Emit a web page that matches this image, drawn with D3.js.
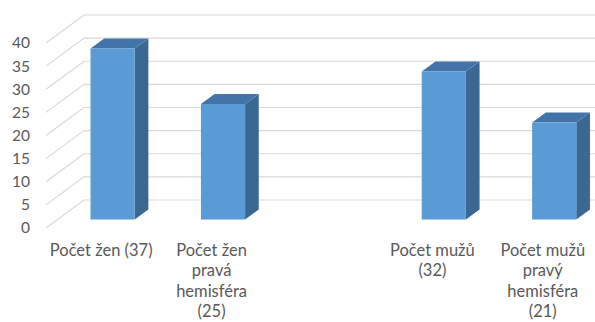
<!DOCTYPE html>
<html>
<head>
<meta charset="utf-8">
<script src="https://cdn.jsdelivr.net/npm/d3@7/dist/d3.min.js"></script>
<style>
  html, body { margin: 0; padding: 0; background: #ffffff; }
  svg { display: block; }
</style>
</head>
<body>
<svg id="chart" width="595" height="322"></svg>
<script>
// category labels, with line breaks as wrapped in the original chart
const categories = ["Počet žen (37)", "Počet žen\npravá\nhemisféra\n(25)", "", "Počet mužů\n(32)", "Počet mužů\npravý\nhemisféra\n(21)"];
const values = [37, 25, null, 32, 21];
const yTicks = [0, 5, 10, 15, 20, 25, 30, 35, 40];

const W = 595, H = 322;
const svg = d3.select("#chart");

// oblique 3D projection parameters
const DX = 38, DY = -28;          // full depth offset
const dFront = 0.3, dBack = 0.66; // bar depth placement

const y = d3.scaleLinear().domain([0, 40]).range([228, 43]);
const x = d3.scaleBand().domain(d3.range(categories.length))
  .range([46, 598]).paddingInner(0.6).paddingOuter(0.3);

const P = (px, v, d) => [px + DX * d, y(v) + DY * d];

// gridlines: left wall diagonals + back wall horizontals
const grid = svg.append("g").attr("stroke", "#d9d9d9").attr("stroke-width", 1.2).attr("fill", "none");
yTicks.forEach(t => {
  const a = P(46, t, 0), b = P(46, t, 1), c = P(700, t, 1);
  grid.append("path").attr("d", `M${a[0]},${a[1]}L${b[0]},${b[1]}L${c[0]},${c[1]}`);
});

// y tick labels
svg.append("g").selectAll("text").data(yTicks).join("text")
  .attr("x", 30).attr("y", d => y(d)).attr("dy", "0.35em")
  .attr("text-anchor", "end")
  .attr("font-family", "Lato, 'Open Sans', sans-serif")
  .attr("font-size", 15.5).attr("fill", "#595959")
  .text(d => d);

// bars
const bars = svg.append("g");
values.forEach((v, i) => {
  if (v == null) return;
  const x0 = x(i), x1 = x(i) + x.bandwidth();
  const fTL = P(x0, v, dFront), fTR = P(x1, v, dFront), fBR = P(x1, 0, dFront), fBL = P(x0, 0, dFront);
  const bTL = P(x0, v, dBack), bTR = P(x1, v, dBack), bBR = P(x1, 0, dBack);
  const poly = pts => "M" + pts.map(p => p.join(",")).join("L") + "Z";
  bars.append("path").attr("d", poly([fTR, bTR, bBR, fBR])).attr("fill", "#3b6893");
  bars.append("path").attr("d", poly([fTL, bTL, bTR, fTR])).attr("fill", "#4274aa");
  bars.append("path").attr("d", poly([fTL, fTR, fBR, fBL])).attr("fill", "#5b9bd5");
});

// category labels
const labelG = svg.append("g")
  .attr("font-family", "Lato, 'Open Sans', sans-serif")
  .attr("font-size", 16.5).attr("fill", "#595959").attr("text-anchor", "middle");
categories.forEach((c, i) => {
  if (!c) return;
  const cx = x(i) + x.bandwidth() / 2;
  const t = labelG.append("text").attr("x", cx).attr("y", 256);
  c.split("\n").forEach((ln, k) => {
    t.append("tspan").attr("x", cx).attr("y", 256 + k * 20.3).text(ln);
  });
});
</script>
</body>
</html>
